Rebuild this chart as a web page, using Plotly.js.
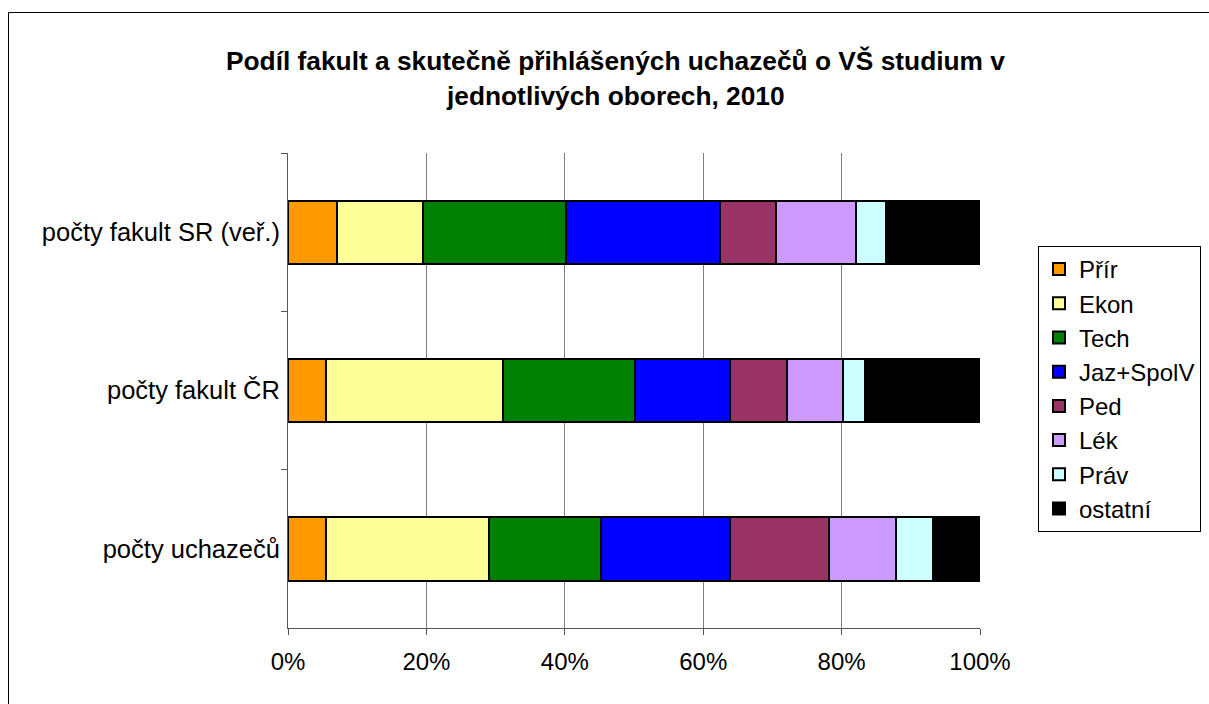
<!DOCTYPE html>
<html><head><meta charset="utf-8">
<script src="https://cdn.plot.ly/plotly-3.0.1.min.js"></script>
<style>html,body{margin:0;padding:0;background:#fff;}#chart{width:1209px;height:704px;}</style>
</head><body><div id="chart"></div>
<script>
const categories = ['počty fakult SR (veř.)', 'počty fakult ČR', 'počty uchazečů'];
const seriesNames = ['Přír', 'Ekon', 'Tech', 'Jaz+SpolV', 'Ped', 'Lék', 'Práv', 'ostatní'];
const seriesColors = ['#FF9900', '#FFFF99', '#008000', '#0000FF', '#993366', '#CC99FF', '#CCFFFF', '#000000'];
const prir   = [7.1, 5.5, 5.5];
const ekon   = [12.45, 25.6, 23.6];
const tech   = [20.6, 19.1, 16.1];
const jaz    = [22.3, 13.7, 18.6];
const ped    = [8.1, 8.2, 14.4];
const lek    = [11.5, 8.1, 9.6];
const prav   = [4.4, 3.2, 5.4];
const ostatni= [13.55, 16.6, 6.8];
const seriesValues = [prir, ekon, tech, jaz, ped, lek, prav, ostatni];
const titleLines = ['Podíl fakult a skutečně přihlášených uchazečů o VŠ studium v', 'jednotlivých oborech, 2010'];

const FONT = 'Liberation Sans, Arial, sans-serif';
const traces = seriesNames.map((n, i) => ({
  type: 'bar', orientation: 'h', name: n, legendgroup: 'g' + i,
  y: categories, x: seriesValues[i],
  marker: {color: seriesColors[i], line: {color: '#000', width: 2}},
  hoverinfo: 'x+name'
}));

const L = 288, R = 980, T = 153, B = 628, W = 1209, H = 704;
const pw = R - L, ph = B - T;
const px = v => (v - L) / pw, py = v => (B - v) / ph;

const layout = {
  width: W, height: H,
  margin: {l: L, r: W - R, t: T, b: H - B, pad: 0, autoexpand: false},
  paper_bgcolor: '#fff', plot_bgcolor: '#fff',
  font: {family: FONT, size: 24, color: '#000'},
  barmode: 'stack', bargap: 0.6,
  showlegend: true,
  legend: {
    x: px(1038), y: py(246), xanchor: 'left', yanchor: 'top',
    bordercolor: '#000', borderwidth: 1, bgcolor: '#fff',
    traceorder: 'grouped', tracegroupgap: 0,
    font: {family: FONT, size: 24, color: '#000'},
    itemwidth: 30
  },
  xaxis: {
    range: [0, 100], dtick: 20, ticksuffix: '%', showgrid: true, gridcolor: '#808080', gridwidth: 1,
    zeroline: false, showline: true, linecolor: '#555', linewidth: 1, automargin: false,
    ticks: 'outside', ticklen: 6, tickcolor: '#555', ticklabelstandoff: 6, fixedrange: true,
    tickfont: {family: FONT, size: 24, color: '#000'}
  },
  yaxis: {
    type: 'category', autorange: 'reversed', showline: true, linecolor: '#555', linewidth: 1,
    ticks: 'outside', tickson: 'boundaries', ticklen: 6, tickcolor: '#555', automargin: false,
    showgrid: false, zeroline: false, fixedrange: true, ticklabelstandoff: 2,
    tickfont: {family: FONT, size: 25.5, color: '#000'}
  },
  annotations: titleLines.map((t, i) => ({
    text: '<b>' + t + '</b>', xref: 'paper', yref: 'paper',
    x: px(615), y: py(61 + 35 * i), xanchor: 'center', yanchor: 'middle', showarrow: false,
    font: {family: FONT, size: 26.3, color: '#000'}
  })),
  shapes: [{
    type: 'rect', xref: 'paper', yref: 'paper',
    x0: px(8.5), x1: px(1230), y0: py(12.5), y1: py(730),
    line: {color: '#000', width: 1}, fillcolor: 'rgba(0,0,0,0)', layer: 'below'
  }]
};
Plotly.newPlot('chart', traces, layout, {staticPlot: true, displayModeBar: false});
</script></body></html>
